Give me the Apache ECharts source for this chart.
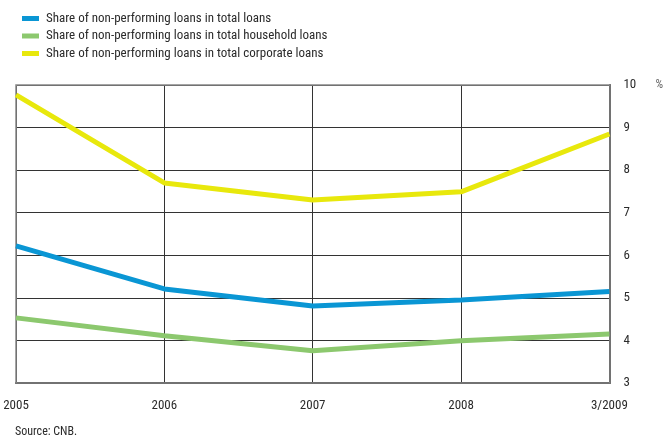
<!DOCTYPE html>
<html>
<head>
<meta charset="utf-8">
<script src="https://cdn.jsdelivr.net/npm/echarts@6/dist/echarts.min.js"></script>
<style>
html,body{margin:0;padding:0;background:#fff;}
#chart{width:666px;height:442px;}
</style>
</head>
<body>
<div id="chart"></div>
<script>
// Non-performing loan shares, % (CNB)
const categories = ['2005', '2006', '2007', '2008', '3/2009'];
const totalLoans = [6.22, 5.21, 4.81, 4.95, 5.15];
const householdLoans = [4.53, 4.11, 3.76, 3.99, 4.15];
const corporateLoans = [9.77, 7.70, 7.30, 7.49, 8.85];
const yTicks = [3, 4, 5, 6, 7, 8, 9, 10];

const FONT = '"Liberation Sans Narrow", "Roboto Condensed", Roboto, sans-serif';
const TXT = '#2b2b2b';

const chart = echarts.init(document.getElementById('chart'));

function lineSeries(name, data, color) {
  return {
    name: name,
    type: 'line',
    data: data,
    symbol: 'none',
    lineStyle: { color: color, width: 5 },
    itemStyle: { color: color },
    z: 5
  };
}

chart.setOption({
  animation: false,
  textStyle: { fontFamily: FONT },
  legend: {
    orient: 'vertical',
    left: 17,
    top: 7,
    itemWidth: 17,
    itemHeight: 5,
    itemGap: 4.5,
    icon: 'rect',
    textStyle: { fontFamily: FONT, fontSize: 13, color: TXT, padding: [0, 0, 0, 2] },
    data: ['Share of non-performing loans in total loans',
           'Share of non-performing loans in total household loans',
           'Share of non-performing loans in total corporate loans']
  },
  grid: { left: 16, right: 56, top: 85, bottom: 59 },
  xAxis: {
    type: 'category',
    data: categories,
    boundaryGap: false,
    axisLine: { show: true, lineStyle: { color: '#333', width: 2 } },
    axisTick: { show: false },
    axisLabel: {
      color: TXT, fontSize: 13, fontFamily: FONT, margin: 16,
      showMinLabel: true, showMaxLabel: true
    },
    splitLine: { show: true, lineStyle: { color: '#333', width: 1 } }
  },
  yAxis: {
    type: 'value',
    position: 'right',
    min: yTicks[0],
    max: yTicks[yTicks.length - 1],
    interval: 1,
    name: '%',
    nameLocation: 'end',
    nameGap: 0,
    nameTextStyle: { color: '#666', fontSize: 12, fontFamily: FONT, align: 'left', verticalAlign: 'middle', padding: [0, 0, 0, 46] },
    axisLine: { show: true, lineStyle: { color: '#333', width: 2 } },
    axisTick: { show: false },
    axisLabel: { color: TXT, fontSize: 13, fontFamily: FONT, margin: 14 },
    splitLine: { show: true, lineStyle: { color: '#333', width: 1 } }
  },
  graphic: [
    {
      type: 'rect',
      shape: { x: 16, y: 85, width: 594, height: 298 },
      style: { fill: 'none', stroke: '#888', lineWidth: 1.5 },
      silent: true, z: 1
    },
    {
      type: 'text',
      left: 15,
      top: 426,
      style: { text: 'Source: CNB.', fill: TXT, font: '12px ' + FONT }
    }
  ],
  series: [
    lineSeries('Share of non-performing loans in total loans', totalLoans, '#0a96d4'),
    lineSeries('Share of non-performing loans in total household loans', householdLoans, '#8cc86e'),
    lineSeries('Share of non-performing loans in total corporate loans', corporateLoans, '#e8e80c')
  ]
});
</script>
</body>
</html>
